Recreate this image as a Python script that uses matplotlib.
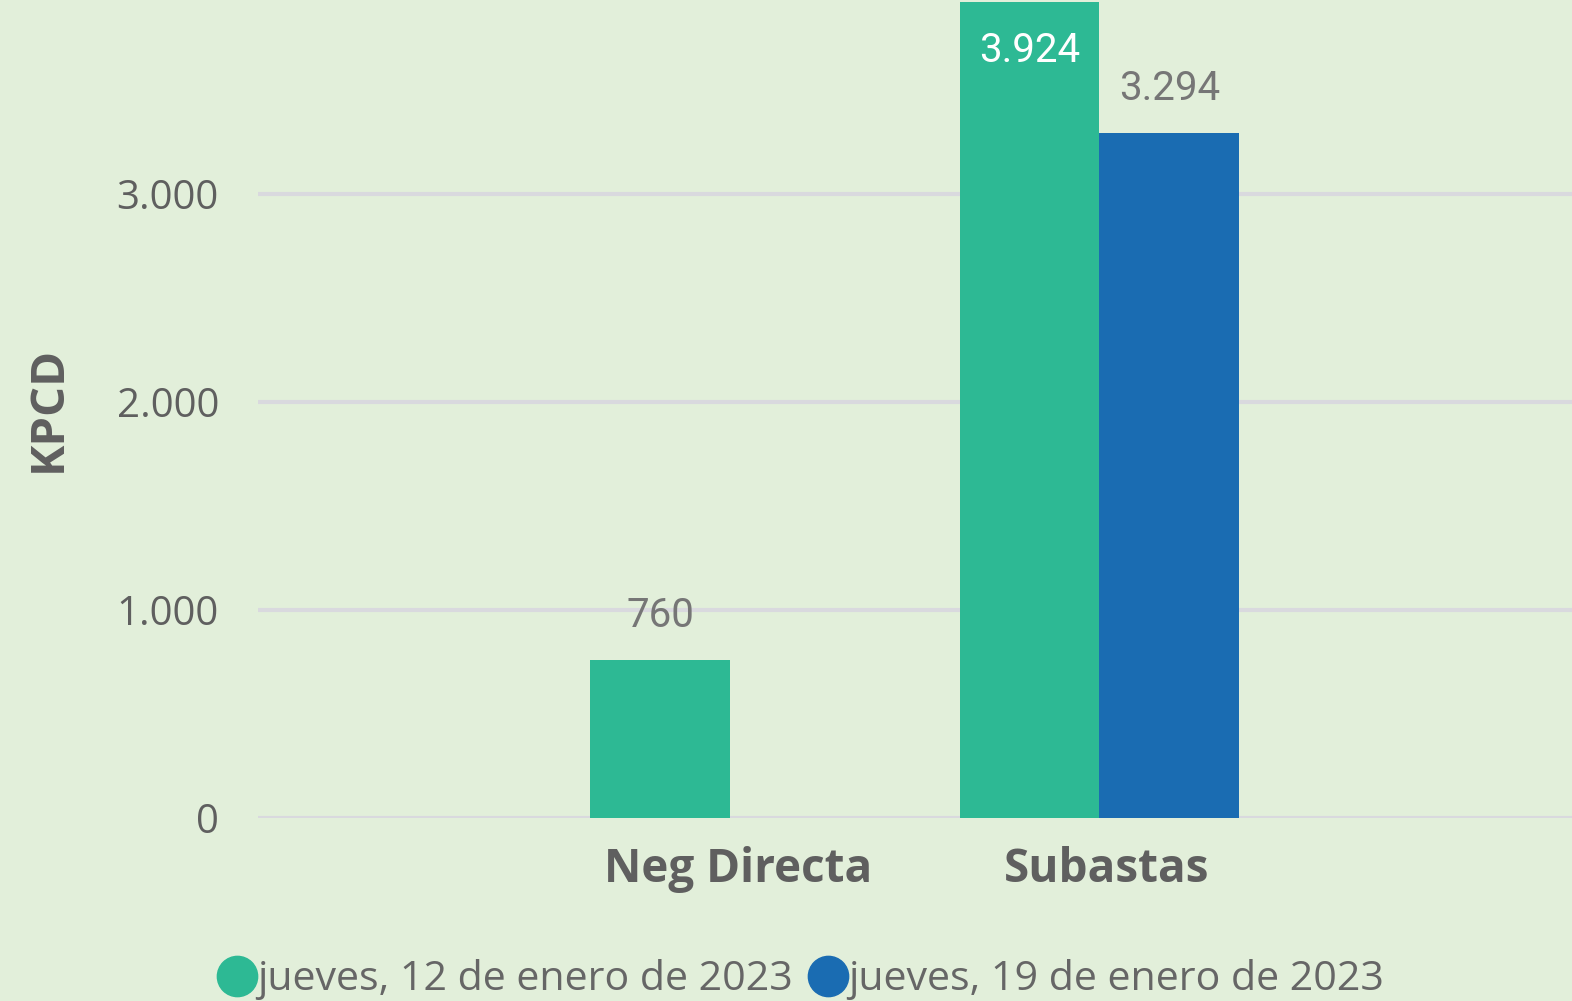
import matplotlib
matplotlib.use("Agg")
import matplotlib.pyplot as plt
from matplotlib.lines import Line2D
import numpy as np

# datos
categorias = ['Neg Directa', 'Subastas']
serie_12 = [760, 3924]
serie_19 = [np.nan, 3294]
nombres = ['jueves, 12 de enero de 2023', 'jueves, 19 de enero de 2023']
ticks_y = [0, 1000, 2000, 3000]
ticks_y_txt = ['0', '1.000', '2.000', '3.000']

verde = '#2DB994'
azul = '#1A6CB2'
fondo = '#E2EFDA'
gris = '#5F5F5F'

fig = plt.figure(figsize=(15.72, 10.01), dpi=100, facecolor=fondo)
ax = fig.add_axes([0.164, 0.183, 0.836, 0.817])
ax.set_facecolor(fondo)

x = np.arange(len(categorias))
ancho = 0.379

b1 = ax.bar(x - ancho / 2, serie_12, width=ancho, color=verde, zorder=3)
b2 = ax.bar(x + ancho / 2, serie_19, width=ancho, color=azul, zorder=3)

ax.set_ylim(0, 3933)
ax.set_xlim(-1.28, 2.28)

# etiquetas de datos
def fmt(v):
    return f'{int(v):,}'.replace(',', '.')

for barras in (b1, b2):
    for bar in barras:
        h = bar.get_height()
        if np.isnan(h):
            continue
        cx = bar.get_x() + bar.get_width() / 2
        if h > 3800:
            ax.text(cx, h - 235, fmt(h), ha='center', va='center', fontsize=29,
                    color='white', family='Roboto', zorder=4)
        else:
            ax.text(cx, h + 215, fmt(h), ha='center', va='center', fontsize=29,
                    color='#767676', family='Roboto', zorder=4)

ax.set_yticks(ticks_y)
ax.set_yticklabels(ticks_y_txt, fontsize=29, color=gris, family='Open Sans')
ax.set_xticks(x + 0.02)
ax.set_xticklabels(categorias, fontsize=33, color=gris, family='Open Sans', fontweight='bold')
ax.tick_params(axis='y', length=0, pad=28)
ax.tick_params(axis='x', length=0, pad=20)
ax.grid(axis='y', color='#D9D9DE', linewidth=3, zorder=0)
for s in ax.spines.values():
    s.set_visible(False)

ax.set_ylabel('KPCD', fontsize=34, fontweight='bold', color=gris, family='Open Sans', labelpad=32)

handles = [Line2D([], [], marker='o', linestyle='none', markersize=29, color=c) for c in (verde, azul)]
fig.legend(handles, nombres, loc='lower center', bbox_to_anchor=(0.509, -0.036), ncol=2, frameon=False,
           prop={'family': 'Open Sans', 'size': 29.6}, labelcolor='#666666',
           handletextpad=0.0, columnspacing=0.35, handlelength=1.0)

fig.savefig('out.png', dpi=100, facecolor=fondo)
